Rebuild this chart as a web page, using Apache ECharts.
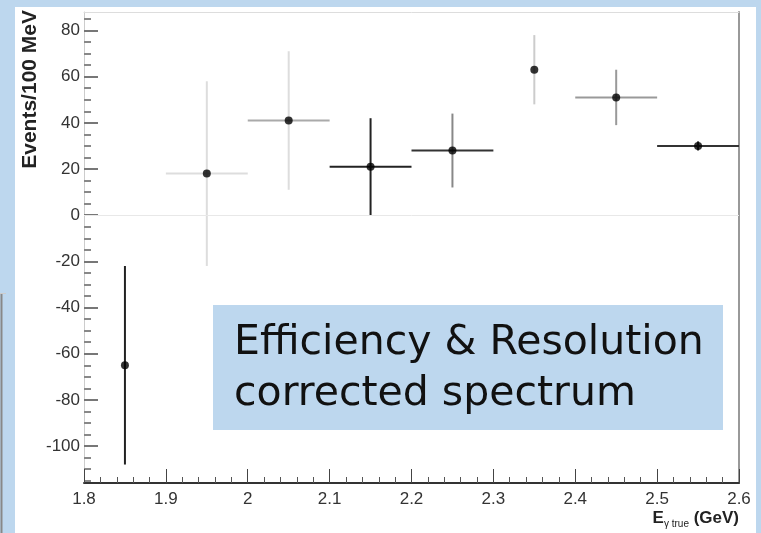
<!DOCTYPE html>
<html>
<head>
<meta charset="utf-8">
<script src="https://cdn.jsdelivr.net/npm/echarts@6/dist/echarts.min.js"></script>
<style>
html, body { margin: 0; padding: 0; background: #bdd7ee; }
#chart { width: 761px; height: 533px; }
</style>
</head>
<body>
<div id="chart"></div>
<script>
// bins of 100 MeV
var binCenters = [1.85, 1.95, 2.05, 2.15, 2.25, 2.35, 2.45, 2.55];
var binHalfWidths = [0, 0.05, 0.05, 0.05, 0.05, 0, 0.05, 0.05];
var events = [-65, 18, 41, 21, 28, 63, 51, 30];
var eventErrors = [43, 40, 30, 21, 16, 15, 12, 2];

var yLabels = [-100, -80, -60, -40, -20, 0, 20, 40, 60, 80];
var yMinorTicks = [-115, -110, -105, -95, -90, -85, -75, -70, -65, -55, -50, -45,
  -35, -30, -25, -15, -10, -5, 5, 10, 15, 25, 30, 35, 45, 50, 55, 65, 70, 75, 85];

// bar colours (the scan shows them in different greys)
var vColor = ['#222', '#ddd', '#ddd', '#222', '#888', '#ccc', '#999', '#333'];
var hColor = ['#222', '#ddd', '#aaa', '#222', '#333', '#ccc', '#999', '#333'];

var font = "'Liberation Sans', Arial, sans-serif";

var chart = echarts.init(document.getElementById('chart'));

var points = [];
var bars = [];
for (var i = 0; i < binCenters.length; i++) {
  points.push([binCenters[i], events[i]]);
  bars.push([binCenters[i], events[i], eventErrors[i], binHalfWidths[i]]);
}

var option = {
  backgroundColor: '#bdd7ee',
  animation: false,
  grid: { left: 84, right: 22, top: 12, bottom: 50 },
  xAxis: [
    {
      type: 'value',
      position: 'bottom',
      min: 1.8,
      max: 2.6,
      interval: 0.1,
      splitLine: { show: false },
      axisLine: { onZero: false, lineStyle: { color: '#333', width: 2 } },
      axisTick: { inside: true, length: 14, lineStyle: { color: '#444' } },
      minorTick: { show: true, splitNumber: 5, length: 6, lineStyle: { color: '#555' } },
      axisLabel: { color: '#333', fontSize: 17, fontFamily: font, margin: 8 }
    },
    {
      type: 'value',
      position: 'top',
      min: 1.8,
      max: 2.6,
      splitLine: { show: false },
      axisLine: { onZero: false, lineStyle: { color: '#ddd', width: 1 } },
      axisTick: { show: false },
      axisLabel: { show: false }
    }
  ],
  yAxis: [
    {
      type: 'value',
      position: 'left',
      min: -116,
      max: 88,
      splitLine: { show: false },
      axisLine: { show: true, onZero: false, lineStyle: { color: '#ccc', width: 1 } },
      axisTick: { inside: true, length: 14, customValues: yLabels, lineStyle: { color: '#777', width: 2 } },
      axisLabel: { customValues: yLabels, color: '#333', fontSize: 17, fontFamily: font, margin: 4 }
    },
    {
      type: 'value',
      position: 'left',
      min: -116,
      max: 88,
      splitLine: { show: false },
      axisLine: { show: false, onZero: false },
      axisTick: { inside: true, length: 7, customValues: yMinorTicks, lineStyle: { color: '#888', width: 2 } },
      axisLabel: { show: false }
    },
    {
      type: 'value',
      position: 'right',
      min: -116,
      max: 88,
      splitLine: { show: false },
      axisLine: { show: true, onZero: false, lineStyle: { color: '#999', width: 2 } },
      axisTick: { show: false },
      axisLabel: { show: false }
    }
  ],
  graphic: [
    { type: 'rect', z: -10, silent: true, shape: { x: 15, y: 7, width: 741, height: 526 }, style: { fill: '#fff' } },
    { type: 'line', silent: true, shape: { x1: 1.5, y1: 293, x2: 1.5, y2: 533 }, style: { stroke: '#888', lineWidth: 2 } },
    { type: 'line', silent: true, shape: { x1: 0, y1: 293.5, x2: 6, y2: 293.5 }, style: { stroke: '#ccc', lineWidth: 1 } },
    {
      type: 'text', x: 30, y: 10, rotation: Math.PI / 2,
      style: { text: 'Events/100 MeV', font: "bold 21px 'Liberation Sans', Arial", fill: '#222', align: 'right', verticalAlign: 'middle' }
    },
    {
      type: 'text', x: 739, y: 518,
      style: {
        text: '{b|E}{s|\u03b3 true}{b| (GeV)}',
        align: 'right', verticalAlign: 'middle',
        rich: {
          b: { fontFamily: font, fontWeight: 'bold', fontSize: 17, fill: '#222' },
          s: { fontFamily: font, fontSize: 10, fill: '#222', padding: [12, 0, 0, 0] }
        }
      }
    },
    { type: 'rect', z: 10, silent: true, shape: { x: 213, y: 305, width: 510, height: 125 }, style: { fill: '#bdd7ee' } },
    {
      type: 'text', z: 11, x: 234, y: 343,
      style: { text: 'Efficiency & Resolution', font: "41px 'Comic Sans MS', 'DejaVu Sans'", fill: '#111', verticalAlign: 'middle' }
    },
    {
      type: 'text', z: 11, x: 234, y: 394,
      style: { text: 'corrected spectrum', font: "41px 'Comic Sans MS', 'DejaVu Sans'", fill: '#111', verticalAlign: 'middle' }
    }
  ],
  series: [
    {
      type: 'custom',
      xAxisIndex: 0,
      yAxisIndex: 0,
      data: bars,
      encode: { x: 0, y: 1 },
      z: 3,
      renderItem: function (params, api) {
        var x = api.value(0);
        var y = api.value(1);
        var e = api.value(2);
        var w = api.value(3);
        var top = api.coord([x, y + e]);
        var bot = api.coord([x, y - e]);
        var children = [{
          type: 'line',
          shape: { x1: top[0], y1: top[1], x2: bot[0], y2: bot[1] },
          style: { stroke: vColor[params.dataIndex], lineWidth: 2 }
        }];
        if (w > 0) {
          var l = api.coord([x - w, y]);
          var r = api.coord([x + w, y]);
          children.push({
            type: 'line',
            shape: { x1: l[0], y1: l[1], x2: r[0], y2: r[1] },
            style: { stroke: hColor[params.dataIndex], lineWidth: 2 }
          });
        }
        return { type: 'group', children: children };
      }
    },
    {
      type: 'scatter',
      xAxisIndex: 0,
      yAxisIndex: 0,
      data: points,
      symbolSize: 8,
      z: 4,
      itemStyle: { color: '#000' },
      markLine: {
        silent: true,
        symbol: 'none',
        label: { show: false },
        lineStyle: { color: '#e8e8e8', width: 1, type: 'solid' },
        data: [{ yAxis: 0 }]
      }
    }
  ]
};

chart.setOption(option);
</script>
</body>
</html>
